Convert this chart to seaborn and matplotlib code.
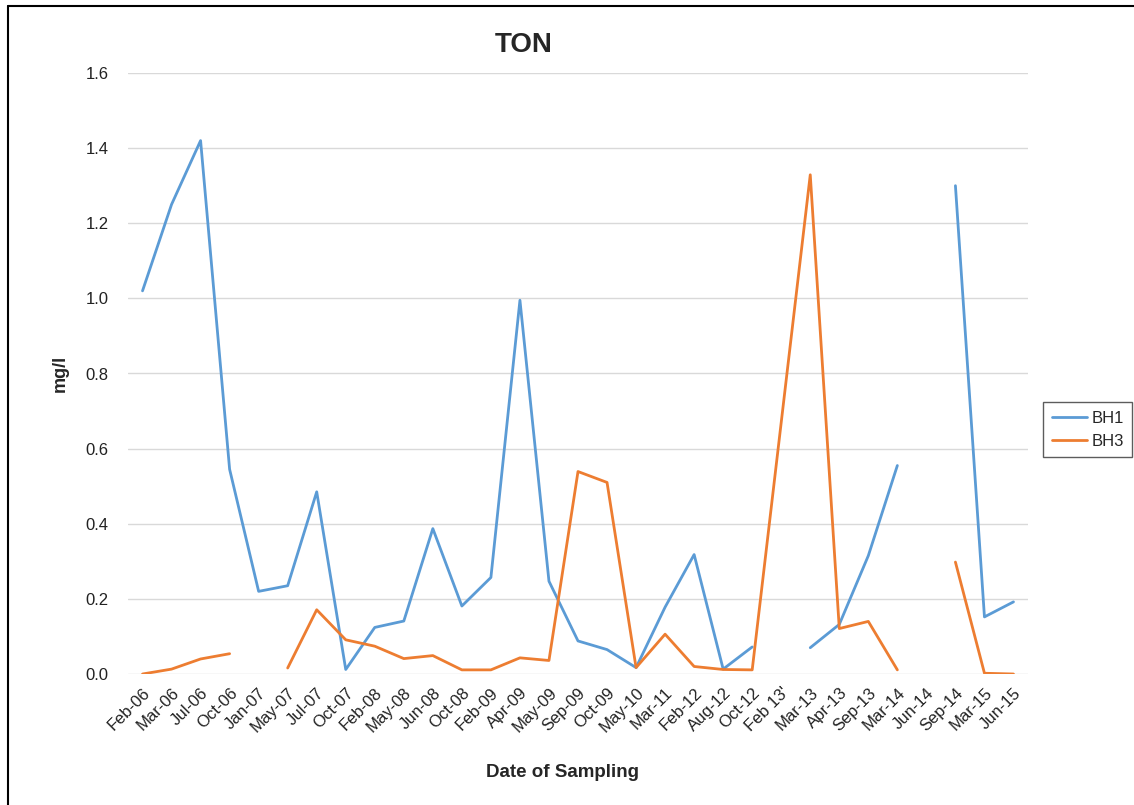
import numpy as np
import pandas as pd
import matplotlib
matplotlib.use("Agg")
import matplotlib.pyplot as plt
import seaborn as sns
from matplotlib.lines import Line2D

# Sampling dates (category axis)
dates = ["Feb-06", "Mar-06", "Jul-06", "Oct-06", "Jan-07", "May-07", "Jul-07",
         "Oct-07", "Feb-08", "May-08", "Jun-08", "Oct-08", "Feb-09", "Apr-09",
         "May-09", "Sep-09", "Oct-09", "May-10", "Mar-11", "Feb-12", "Aug-12",
         "Oct-12", "Feb 13'", "Mar-13", "Apr-13", "Sep-13", "Mar-14", "Jun-14",
         "Sep-14", "Mar-15", "Jun-15"]

nan = np.nan
# TON concentrations (mg/l)
bh1 = [1.02, 1.25, 1.42, 0.545, 0.22, 0.235, 0.485, 0.012, 0.124, 0.141, 0.387,
       0.181, 0.257, 0.995, 0.247, 0.088, 0.065, 0.017, 0.178, 0.318, 0.013,
       0.072, nan, 0.07, 0.132, 0.315, 0.555, nan, 1.30, 0.152, 0.192]
bh3 = [0.0, 0.013, 0.040, 0.054, nan, 0.016, 0.171, 0.091, 0.074, 0.041, 0.049,
       0.011, 0.011, 0.043, 0.036, 0.539, 0.51, 0.017, 0.106, 0.020, 0.012,
       0.011, 0.67, 1.329, 0.121, 0.140, 0.011, nan, 0.298, 0.002, 0.0]

series = {"BH1": bh1, "BH3": bh3}
colors = {"BH1": "#5B9BD5", "BH3": "#ED7D31"}

# Long-form table; missing samples split a series into separate segments
rows = []
for name, vals in series.items():
    seg = 0
    for i, v in enumerate(vals):
        if np.isnan(v):
            seg += 1
            continue
        rows.append({"idx": i, "value": v, "well": name, "seg": seg})
df = pd.DataFrame(rows)

sns.set_theme(style="white")
plt.rcParams["font.family"] = ["Liberation Sans", "DejaVu Sans"]

fig = plt.figure(figsize=(11.34, 8.05), dpi=100)
ax = fig.add_axes([128 / 1134, 131 / 805, 900 / 1134, 601 / 805])

sns.lineplot(data=df, x="idx", y="value", hue="well", units="seg",
             estimator=None, palette=colors, linewidth=2.0, ax=ax, legend=False)

ax.set_xlim(-0.5, len(dates) - 0.5)
ax.set_ylim(0, 1.6)
ax.set_yticks(np.arange(0, 1.61, 0.2))
ax.set_yticklabels([f"{t:.1f}" for t in np.arange(0, 1.61, 0.2)], fontsize=12)
ax.set_xticks(range(len(dates)))
ax.set_xticklabels(dates, rotation=45, ha="right", rotation_mode="anchor",
                   fontsize=12)
ax.tick_params(axis="both", length=0, pad=8, colors="#222222")
ax.tick_params(axis="y", pad=14)
ax.yaxis.grid(True, color="#D9D9D9", linewidth=1.0)
ax.xaxis.grid(False)
for s in ax.spines.values():
    s.set_visible(False)
ax.set_xlabel("")
ax.set_ylabel("")

fig.text(524 / 1134, 1 - 45 / 805, "TON", ha="center", va="center",
         fontsize=20, fontweight="bold")
fig.text(60 / 1134, 1 - 373 / 805, "mg/l", ha="center", va="center",
         rotation=90, fontsize=13, fontweight="bold")
fig.text(562 / 1134, 1 - 772 / 805, "Date of Sampling", ha="center",
         va="center", fontsize=13.5, fontweight="bold")

handles = [Line2D([], [], color=colors[k], linewidth=2.0) for k in series]
leg = fig.legend(handles, list(series), loc="center left",
                 bbox_to_anchor=(1040 / 1134, 1 - 430 / 805), fontsize=12,
                 frameon=True, fancybox=False, handlelength=2.1,
                 handletextpad=0.3, borderpad=0.5, borderaxespad=0.2,
                 labelspacing=0.5)
leg.get_frame().set_edgecolor("#333333")
leg.get_frame().set_linewidth(1.0)

# Outer frame of the chart area
fig.add_artist(Line2D([7.5 / 1134, 7.5 / 1134], [0, 1 - 6 / 805],
                      transform=fig.transFigure, color="black", linewidth=1.5))
fig.add_artist(Line2D([7.5 / 1134, 1], [1 - 6 / 805, 1 - 6 / 805],
                      transform=fig.transFigure, color="black", linewidth=1.5))

fig.savefig("out.png", dpi=100, facecolor="white")
